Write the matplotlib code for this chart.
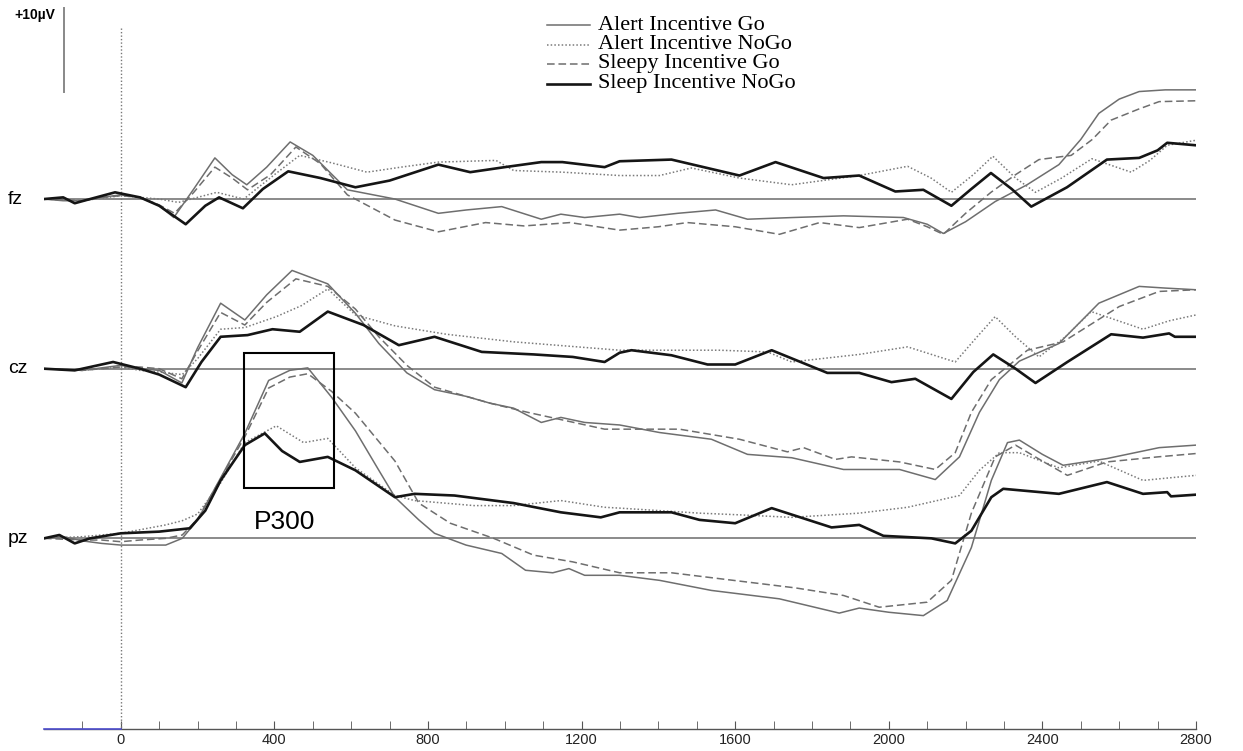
import matplotlib
matplotlib.use("Agg")
import matplotlib.pyplot as plt
from matplotlib.patches import Rectangle

# ---- data (ms, µV) ----
channels = ["fz", "cz", "pz"]
channel_offsets = [0.0, -20.2, -40.4]
conditions = ["Alert Incentive Go", "Alert Incentive NoGo",
              "Sleepy Incentive Go", "Sleep Incentive NoGo"]

# fz
fz_ag_t = [-200, -150, -100, -50, 0, 50, 100, 138, 190, 245, 290, 328, 380, 441, 500, 590, 714, 827, 900, 992,
           1095, 1146, 1208, 1299, 1351, 1450, 1549, 1632, 1750, 1882, 2038, 2100, 2142, 2200, 2277, 2360, 2443,
           2500, 2547, 2600, 2652, 2720, 2800]
fz_ag_v = [0, -0.2, -0.2, 0.2, 0.5, 0.2, -0.8, -2.2, 1.2, 4.9, 2.9, 1.7, 3.8, 6.8, 5.2, 1.1, 0, -1.7, -1.3, -0.9,
           -2.4, -1.8, -2.2, -1.8, -2.2, -1.7, -1.3, -2.4, -2.2, -2.0, -2.2, -3.0, -4.1, -2.7, -0.3, 1.7, 4.1,
           7.1, 10.2, 11.9, 12.8, 13.0, 13.0]
fz_an_t = [-200, -100, 0, 50, 100, 150, 200, 250, 320, 400, 466, 550, 641, 730, 827, 977, 1023, 1150, 1299, 1403,
           1486, 1611, 1747, 1923, 2049, 2110, 2163, 2220, 2271, 2330, 2382, 2450, 2529, 2631, 2680, 2725, 2800]
fz_an_v = [0, -0.2, 0.4, 0.2, 0, -0.4, 0.2, 0.8, 0, 2.9, 5.2, 4.3, 3.2, 3.8, 4.4, 4.6, 3.4, 3.2, 2.8, 2.8,
           3.7, 2.5, 1.7, 2.8, 3.9, 2.5, 0.8, 2.9, 5.1, 2.5, 0.8, 2.5, 4.8, 3.2, 4.6, 6.4, 7.0]
fz_sg_t = [-200, -100, -50, 0, 50, 100, 140, 190, 245, 290, 330, 390, 456, 520, 590, 714, 827, 950, 1050, 1170,
           1299, 1400, 1475, 1600, 1715, 1820, 1923, 2049, 2100, 2142, 2200, 2266, 2330, 2391, 2475, 2530, 2579,
           2650, 2704, 2800]
fz_sg_v = [0, -0.2, 0.2, 0.4, 0.2, -0.7, -1.7, 0.8, 3.8, 2.5, 1.1, 2.9, 6.2, 4.2, 0.5, -2.5, -3.9, -2.8, -3.2, -2.8,
           -3.7, -3.3, -2.8, -3.3, -4.2, -2.8, -3.4, -2.4, -3.3, -4.2, -1.7, 0.8, 2.9, 4.7, 5.2, 7.1, 9.4,
           10.7, 11.6, 11.7]
fz_sn_t = [-200, -150, -120, -80, -15, 50, 100, 169, 220, 256, 318, 370, 436, 520, 611, 700, 827, 910, 1000, 1095,
           1150, 1260, 1299, 1434, 1611, 1705, 1830, 1923, 2017, 2090, 2163, 2215, 2266, 2320, 2371, 2464, 2568,
           2652, 2700, 2725, 2800]
fz_sn_v = [0, 0.2, -0.5, 0, 0.8, 0.2, -0.8, -3.0, -0.8, 0.2, -1.1, 1.2, 3.3, 2.5, 1.4, 2.2, 4.1, 3.2, 3.8, 4.4,
           4.4, 3.8, 4.5, 4.7, 2.8, 4.4, 2.5, 2.8, 0.9, 1.1, -0.8, 1.2, 3.1, 1.2, -0.9, 1.4, 4.7,
           4.9, 5.8, 6.7, 6.4]

# cz
cz_ag_t = [-200, -100, 0, 50, 100, 159, 200, 260, 323, 380, 446, 539, 611, 672, 745, 817, 900, 961, 1023, 1095,
           1146, 1208, 1299, 1403, 1538, 1632, 1747, 1882, 2028, 2121, 2184, 2236, 2288, 2340, 2443, 2547, 2652,
           2720, 2800]
cz_ag_v = [0, -0.2, 0.4, 0, -0.2, -1.7, 2.5, 7.8, 5.8, 8.8, 11.7, 10.1, 6.6, 3.0, -0.5, -2.5, -3.3, -4.1, -4.7, -6.4,
           -5.8, -6.4, -6.7, -7.6, -8.4, -10.2, -10.6, -12.0, -12.0, -13.2, -10.5, -5.2, -1.3, 0.9, 3.0, 7.8, 9.8,
           9.6, 9.4]
cz_an_t = [-200, -100, 0, 50, 100, 160, 200, 260, 323, 405, 470, 539, 611, 714, 848, 1023, 1299, 1559, 1684, 1747,
           1923, 2049, 2173, 2230, 2277, 2330, 2391, 2460, 2527, 2662, 2730, 2800]
cz_an_v = [0, -0.2, 0.2, -0.2, -0.4, -0.7, 1.2, 4.7, 4.9, 6.2, 7.5, 9.5, 6.4, 5.1, 4.1, 3.2, 2.2, 2.2, 2.0, 0.8,
           1.7, 2.6, 0.8, 3.8, 6.2, 3.8, 1.4, 3.8, 6.8, 4.7, 5.7, 6.4]
cz_sg_t = [-200, -100, 0, 50, 100, 159, 200, 260, 323, 380, 456, 539, 611, 672, 745, 817, 900, 961, 1060, 1160,
           1260, 1299, 1455, 1611, 1736, 1778, 1861, 1903, 2028, 2121, 2173, 2215, 2267, 2361, 2454, 2600, 2704,
           2800]
cz_sg_v = [0, -0.2, 0.2, 0.2, 0, -1.2, 2.1, 6.7, 5.2, 7.9, 10.7, 9.8, 7.1, 3.8, 0.4, -2.2, -3.3, -4.1, -5.2, -6.2,
           -7.2, -7.2, -7.2, -8.4, -9.9, -9.4, -10.8, -10.5, -11.1, -12.0, -10.0, -5.2, -1.3, 2.2, 3.2, 7.4, 9.2,
           9.4]
cz_sn_t = [-200, -120, -20, 50, 100, 169, 210, 260, 330, 395, 466, 539, 632, 724, 817, 940, 1075, 1177, 1260, 1299,
           1330, 1434, 1528, 1600, 1695, 1840, 1923, 2007, 2069, 2163, 2220, 2272, 2330, 2382, 2465, 2579, 2662,
           2730, 2745, 2800]
cz_sn_v = [0, -0.2, 0.8, 0, -0.7, -2.2, 0.8, 3.8, 4.0, 4.7, 4.4, 6.8, 5.2, 2.8, 3.8, 2.0, 1.7, 1.4, 0.8, 1.9,
           2.2, 1.6, 0.5, 0.5, 2.2, -0.5, -0.5, -1.6, -1.2, -3.6, -0.4, 1.7, 0, -1.7, 0.8, 4.1, 3.7,
           4.2, 3.8, 3.8]

# pz
pz_ag_t = [-200, -150, -100, -50, 0, 50, 117, 160, 200, 260, 323, 385, 440, 487, 549, 611, 672, 714, 776, 817,
           899, 992, 1054, 1125, 1167, 1208, 1299, 1403, 1538, 1715, 1871, 1923, 2000, 2090, 2152, 2215, 2267,
           2309, 2340, 2400, 2454, 2568, 2704, 2800]
pz_ag_v = [0, 0.2, -0.3, -0.6, -0.8, -0.8, -0.8, 0, 2.2, 7.2, 12.5, 18.8, 20.0, 20.3, 16.8, 12.8, 8.1, 4.9, 2.2, 0.6,
           -0.8, -1.8, -3.8, -4.1, -3.6, -4.4, -4.4, -5.0, -6.2, -7.2, -8.9, -8.3, -8.8, -9.2, -7.4, -1.1, 6.9,
           11.4, 11.7, 10.0, 8.7, 9.5, 10.8, 11.1]
pz_an_t = [-200, -100, 0, 117, 160, 200, 260, 323, 405, 476, 539, 611, 714, 765, 920, 1023, 1146, 1260, 1299, 1507,
           1611, 1747, 1923, 2049, 2184, 2236, 2288, 2340, 2443, 2547, 2662, 2730, 2800]
pz_an_v = [0, 0.2, 0.6, 1.6, 2.1, 2.9, 6.6, 11.4, 13.4, 11.4, 11.9, 8.4, 5.1, 4.5, 3.9, 3.9, 4.5, 3.7, 3.6, 3.0,
           2.8, 2.5, 3.0, 3.7, 5.1, 8.1, 10.2, 10.2, 8.4, 9.2, 6.9, 7.2, 7.5]
pz_sg_t = [-200, -100, -50, 0, 50, 117, 160, 200, 260, 323, 385, 440, 487, 549, 611, 714, 776, 858, 971, 1075,
           1177, 1299, 1434, 1559, 1757, 1882, 1975, 2100, 2163, 2215, 2277, 2330, 2400, 2465, 2568, 2700, 2800]
pz_sg_v = [0, -0.2, -0.2, -0.4, -0.2, 0, 0.4, 2.3, 7.1, 12.1, 17.9, 19.2, 19.6, 17.5, 14.9, 9.2, 4.2, 1.8, 0, -2.0,
           -2.8, -4.1, -4.1, -4.8, -5.9, -6.8, -8.2, -7.6, -5.0, 3.0, 9.7, 11.1, 9.2, 7.5, 9.1, 9.7, 10.1]
pz_sn_t = [-200, -160, -120, -80, 0, 100, 180, 220, 260, 323, 375, 420, 466, 539, 611, 714, 765, 869, 1023, 1146,
           1250, 1299, 1434, 1507, 1600, 1695, 1851, 1923, 1986, 2111, 2173, 2215, 2267, 2298, 2443, 2568, 2662,
           2725, 2735, 2800]
pz_sn_v = [0, 0.4, -0.6, 0, 0.6, 0.8, 1.2, 3.3, 6.9, 11.1, 12.5, 10.4, 9.1, 9.7, 8.1, 4.9, 5.3, 5.1, 4.2, 3.1,
           2.5, 3.1, 3.1, 2.2, 1.8, 3.6, 1.3, 1.6, 0.3, 0, -0.6, 0.9, 4.9, 5.9, 5.3, 6.7, 5.3,
           5.5, 5.0, 5.2]

tick_labels = [0, 400, 800, 1200, 1600, 2000, 2400, 2800]

# ---- styles ----
styles = [
    dict(color="#6e6e6e", lw=1.1, ls="-"),               # Alert Go
    dict(color="#7a7a7a", lw=1.1, ls=(0, (1, 1.4))),     # Alert NoGo
    dict(color="#6e6e6e", lw=1.1, ls=(0, (5, 2.5))),     # Sleepy Go
    dict(color="#151515", lw=1.9, ls="-"),               # Sleep NoGo
]

series = [
    [(fz_ag_t, fz_ag_v), (fz_an_t, fz_an_v), (fz_sg_t, fz_sg_v), (fz_sn_t, fz_sn_v)],
    [(cz_ag_t, cz_ag_v), (cz_an_t, cz_an_v), (cz_sg_t, cz_sg_v), (cz_sn_t, cz_sn_v)],
    [(pz_ag_t, pz_ag_v), (pz_an_t, pz_an_v), (pz_sg_t, pz_sg_v), (pz_sn_t, pz_sn_v)],
]

plt.rcParams["font.family"] = ["Liberation Sans", "DejaVu Sans"]

fig = plt.figure(figsize=(12.43, 7.51), dpi=100)
ax = fig.add_axes([44 / 1243, 22 / 751, 1152 / 1243, 729 / 751])
ax.set_xlim(-200, 2800)
ybot, ytop = -63.1, 23.7
ax.set_ylim(ybot, ytop)

for s in ["left", "right", "top"]:
    ax.spines[s].set_visible(False)
ax.spines["bottom"].set_color("#555555")
ax.spines["bottom"].set_linewidth(1.0)
ax.axhline(ybot, xmin=0, xmax=200 / 3000, color="#5050d0", lw=1.2, clip_on=False, zorder=5)

ax.set_yticks([])
ax.set_xticks(tick_labels)
ax.set_xticks(range(-100, 2800, 100), minor=True)
ax.tick_params(axis="x", which="both", direction="in", length=6, color="#555555", pad=3,
               labelsize=10.5, labelcolor="#222222")

# stimulus onset
ax.plot([0, 0], [20.4, ybot], color="#777777", lw=1.0, ls=(0, (1, 1.5)), clip_on=False)

# channel baselines + traces
for ch, off, chan_series in zip(channels, channel_offsets, series):
    ax.plot([-200, 2800], [off, off], color="#8a8a8a", lw=1.4, zorder=1)
    for (t, v), st in zip(chan_series, styles):
        ax.plot(t, [x + off for x in v], zorder=3, solid_joinstyle="round", **st)
    ax.text(-294, off, ch, ha="left", va="center", fontsize=14, clip_on=False)

# scale bar
ax.plot([-148, -148], [12.7, 22.7], color="#888888", lw=1.4, clip_on=False)
ax.text(-170, 21.9, "+10\u00b5V", ha="right", va="center", fontsize=10, fontweight="bold", clip_on=False)

# P300 box
pz_off = channel_offsets[2]
ax.add_patch(Rectangle((320, pz_off + 5.95), 234, 16.15, fill=False, edgecolor="black", lw=1.5, zorder=4))
ax.text(427, pz_off + 1.9, "P300", ha="center", va="center", fontsize=19)

# legend
leg_y = [20.7, 18.4, 16.1, 13.75]
for lab, st, y in zip(conditions, styles, leg_y):
    ax.plot([1109, 1221], [y, y], clip_on=False, **st)
    ax.text(1242, y, lab, ha="left", va="center", fontsize=16,
            family=["Liberation Serif", "DejaVu Serif"], clip_on=False)

fig.savefig("out.png", dpi=100)
